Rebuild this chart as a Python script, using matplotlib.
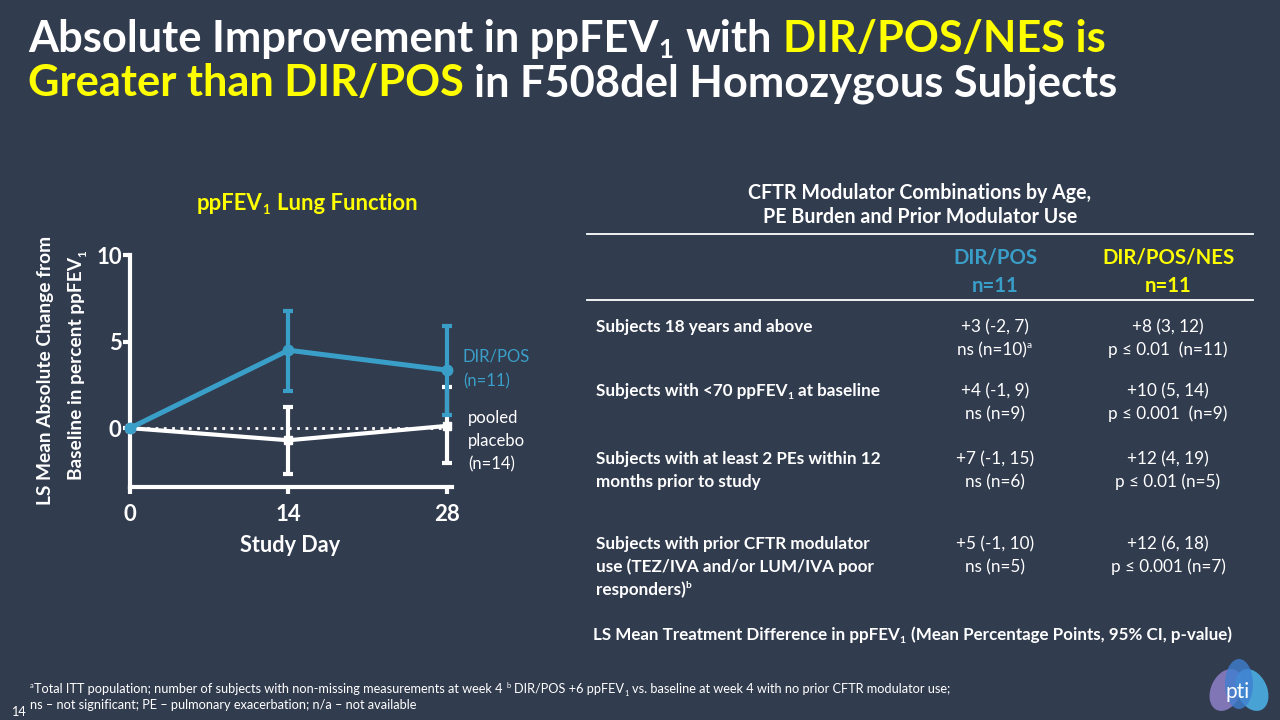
import matplotlib
matplotlib.use('Agg')
import matplotlib.pyplot as plt
from matplotlib.transforms import IdentityTransform
from matplotlib.patches import Ellipse

W, H, DPI = 1280, 720, 100
BG = '#323c4f'
BLUE = '#3a9fc8'
YEL = '#ffff00'
WH = '#ffffff'
FONT = ['Lato', 'DejaVu Sans']

# ---------------- data ----------------
days = [0, 14, 28]
dirpos_mean = [0, 4.5, 3.35]
dirpos_lo = [0, 2.16, 0.75]
dirpos_hi = [0, 6.76, 5.9]
placebo_mean = [0, -0.7, 0.13]
placebo_lo = [0, -2.66, -2.03]
placebo_hi = [0, 1.23, 2.37]
xticks = [0, 14, 28]
yticks = [0, 5, 10]

row_labels = [
    ["Subjects 18 years and above"],
    ["Subjects with <70 ppFEV_{1} at baseline"],
    ["Subjects with at least 2 PEs within 12", "months prior to study"],
    ["Subjects with prior CFTR modulator", "use (TEZ/IVA and/or LUM/IVA poor", "responders)^{b}"],
]
col_dirpos = [
    ["+3 (-2, 7)", "ns (n=10)^{a}"],
    ["+4 (-1, 9)", "ns (n=9)"],
    ["+7 (-1, 15)", "ns (n=6)"],
    ["+5 (-1, 10)", "ns (n=5)"],
]
col_dirposnes = [
    ["+8 (3, 12)", "p \u2264 0.01  (n=11)"],
    ["+10 (5, 14)", "p \u2264 0.001  (n=9)"],
    ["+12 (4, 19)", "p \u2264 0.01 (n=5)"],
    ["+12 (6, 18)", "p \u2264 0.001 (n=7)"],
]

fig = plt.figure(figsize=(W / DPI, H / DPI), dpi=DPI, facecolor=BG)
ov = fig.add_axes([0, 0, 1, 1])
ov.set_xlim(0, W)
ov.set_ylim(H, 0)
ov.axis('off')
R = fig.canvas.get_renderer()
IT = IdentityTransform()


def parse(s, color):
    segs, buf, i = [], '', 0
    while i < len(s):
        if s[i] in '_^' and i + 1 < len(s) and s[i + 1] == '{':
            if buf:
                segs.append((buf, color, 'n'))
                buf = ''
            j = s.index('}', i)
            segs.append((s[i + 2:j], color, 'sub' if s[i] == '_' else 'sup'))
            i = j + 1
        else:
            buf += s[i]
            i += 1
    if buf:
        segs.append((buf, color, 'n'))
    return segs


def measure(txt, size, weight, rot=0):
    t = fig.text(0, 0, txt, fontsize=size, fontweight=weight, family=FONT, rotation=rot)
    e = t.get_window_extent(R)
    t.remove()
    return e.height if rot else e.width


def space_w(size, weight):
    return measure('a a', size, weight) - measure('aa', size, weight)


def rich(x, yb, segs, size, weight='bold', ha='left', rot=0, dry=False, subk=0.2):
    px = size * DPI / 72
    items, total = [], 0
    for txt, col, mode in segs:
        s = size * 0.6 if mode != 'n' else size
        sw = space_w(s, weight)
        core = txt.strip(' ')
        lead = len(txt) - len(txt.lstrip(' '))
        trail = len(txt) - len(txt.rstrip(' '))
        total += lead * sw
        w = measure(core, s, weight, rot) if core else 0
        items.append((core, col, mode, s, total))
        total += w + trail * sw
        if mode != 'n':
            total += 0.04 * px
    if dry:
        return total
    off = {'n': 0, 'sub': -subk * px, 'sup': 0.38 * px}
    if rot == 0:
        x0 = x - {'left': 0, 'center': total / 2, 'right': total}[ha]
        for core, col, mode, s, pos in items:
            if core:
                fig.text(x0 + pos, H - yb + off[mode], core, color=col, fontsize=s,
                         fontweight=weight, family=FONT, ha='left', va='baseline',
                         transform=IT)
    else:
        start = (H - yb) - total / 2
        for core, col, mode, s, pos in items:
            if core:
                fig.text(x - off[mode], start + pos, core, color=col, fontsize=s,
                         fontweight=weight, family=FONT, ha='left', va='baseline',
                         rotation=90, rotation_mode='anchor', transform=IT)
    return total


def fit(segs, target, weight='bold', rot=0):
    return 10 * target / rich(0, 0, segs, 10, weight=weight, rot=rot, dry=True)


# ---------------- title ----------------
t1 = [("Absolute Improvement in ppFEV", WH, 'n'), ("1", WH, 'sub'), (" with ", WH, 'n'),
      ("DIR/POS/NES is", YEL, 'n')]
t2 = [("Greater than DIR/POS", YEL, 'n'), (" in F508del Homozygous Subjects", WH, 'n')]
ts = (fit(t1, 1077) + fit(t2, 1089)) / 2
rich(28, 52, t1, ts, subk=0.13)
rich(28, 96, t2, ts)

# ---------------- chart ----------------
sub_title = [("ppFEV", YEL, 'n'), ("1", YEL, 'sub'), (" Lung Function", YEL, 'n')]
rich(307, 210, sub_title, fit(sub_title, 221), ha='center')

ax = fig.add_axes([130 / W, (H - 487) / H, 322 / W, (487 - 255) / H])
ax.set_facecolor('none')
ax.set_xlim(0, 28.45)
ax.set_ylim(-3.4, 10)
for s in ['top', 'right']:
    ax.spines[s].set_visible(False)
for s in ['left', 'bottom']:
    ax.spines[s].set_color(WH)
    ax.spines[s].set_linewidth(3)
ax.set_xticks(xticks)
ax.set_yticks(yticks)
ax.tick_params(colors=WH, width=3, length=5)
ax.tick_params(axis='y', pad=1)
ax.tick_params(axis='x', pad=7)
for lab in ax.get_xticklabels() + ax.get_yticklabels():
    lab.set_fontweight('bold')
    lab.set_family(FONT)
    lab.set_fontsize(16)

ax.plot([days[0], days[-1]], [0, 0], ls=(0, (1, 2)), color=WH, lw=2, zorder=1)
pl_err = [[m - l for m, l in zip(placebo_mean, placebo_lo)], [h - m for m, h in zip(placebo_mean, placebo_hi)]]
dp_err = [[m - l for m, l in zip(dirpos_mean, dirpos_lo)], [h - m for m, h in zip(dirpos_mean, dirpos_hi)]]
ax.errorbar(days[1:], placebo_mean[1:], yerr=[pl_err[0][1:], pl_err[1][1:]], fmt='none',
            ecolor=WH, elinewidth=3, capsize=3.5, capthick=3, zorder=2)
ax.plot(days, placebo_mean, color=WH, lw=3, marker='s', ms=6, zorder=2, clip_on=False)
ax.errorbar(days[1:], dirpos_mean[1:], yerr=[dp_err[0][1:], dp_err[1][1:]], fmt='none',
            ecolor=BLUE, elinewidth=3, capsize=3.5, capthick=3, zorder=3)
ax.plot(days, dirpos_mean, color=BLUE, lw=3.6, marker='o', ms=7.5, zorder=3, clip_on=False)

# axis labels
sd = [("Study Day", WH, 'n')]
rich(290, 552, sd, fit(sd, 100), ha='center')
yl1 = [("LS Mean Absolute Change from", WH, 'n')]
yl2 = parse("Baseline in percent ppFEV_{1}", WH)
ys = fit(yl1, 270, rot=90)
rich(51, 370, yl1, ys, rot=90)
rich(82, 365, yl2, ys, rot=90)

# series annotations
an = [("DIR/POS", BLUE, 'n')]
asz = fit(an, 67, weight='normal')
rich(463, 362, an, asz, weight='normal')
rich(463, 386, [("(n=11)", BLUE, 'n')], asz, weight='normal')
rich(468, 423, [("pooled", WH, 'n')], asz, weight='normal')
rich(468, 446, [("placebo", WH, 'n')], asz, weight='normal')
rich(468, 469, [("(n=14)", WH, 'n')], asz, weight='normal')

# ---------------- table ----------------
h1 = [("CFTR Modulator Combinations by Age,", WH, 'n')]
hs = fit(h1, 342)
rich(920, 199, h1, hs, ha='center')
rich(920, 223, [("PE Burden and Prior Modulator Use", WH, 'n')], hs, ha='center')
ov.plot([587, 1253], [234, 234], color=WH, lw=1.3)
ov.plot([587, 1253], [300, 300], color=WH, lw=1.3)
cs = fit([("DIR/POS/NES", YEL, 'n')], 132)
rich(995, 263, [("DIR/POS", BLUE, 'n')], cs, ha='center')
rich(995, 292, [("n=11", BLUE, 'n')], cs, ha='center')
rich(1168, 263, [("DIR/POS/NES", YEL, 'n')], cs, ha='center')
rich(1168, 292, [("n=11", YEL, 'n')], cs, ha='center')

rs = fit([("Subjects 18 years and above", WH, 'n')], 217)
row_base = [332, 396, 464, 549]
LS = 23
for i, yb in enumerate(row_base):
    for k, line in enumerate(row_labels[i]):
        rich(596, yb + k * LS, parse(line, WH), rs)
    for k, line in enumerate(col_dirpos[i]):
        rich(995, yb + k * LS, parse(line, WH), rs, weight='normal', ha='center')
    for k, line in enumerate(col_dirposnes[i]):
        rich(1168, yb + k * LS, parse(line, WH), rs, weight='normal', ha='center')

ft = parse("LS Mean Treatment Difference in ppFEV_{1} (Mean Percentage Points, 95% CI, p-value)", WH)
rich(593, 640, ft, fit(ft, 642))

# ---------------- footnote ----------------
fn2 = [("ns \u2013 not significant; PE \u2013 pulmonary exacerbation; n/a \u2013 not available", WH, 'n')]
fn1 = parse("^{a}Total ITT population; number of subjects with non-missing measurements at week 4 ^{b} "
            "DIR/POS +6 ppFEV_{1} vs. baseline at week 4 with no prior CFTR modulator use;", WH)
fs = (fit(fn2, 395, weight='normal') + fit(fn1, 905, weight='normal')) / 2
rich(30, 693, fn1, fs, weight='normal')
rich(30, 709, fn2, fs, weight='normal')
rich(11, 716, [("14", WH, 'n')], fs, weight='normal')

# ---------------- logo ----------------
ov.add_patch(Ellipse((1226, 690), 30, 44, angle=25, color='#8f80c8', alpha=0.85, lw=0))
ov.add_patch(Ellipse((1252, 690), 30, 44, angle=-25, color='#4cb6ec', alpha=0.85, lw=0))
ov.add_patch(Ellipse((1239, 684), 28, 50, angle=0, color='#3f7fd0', alpha=0.8, lw=0))
rich(1238, 698, [("pti", WH, 'n')], 15, weight='normal', ha='center')

fig.savefig('out.png', dpi=DPI, facecolor=BG)
